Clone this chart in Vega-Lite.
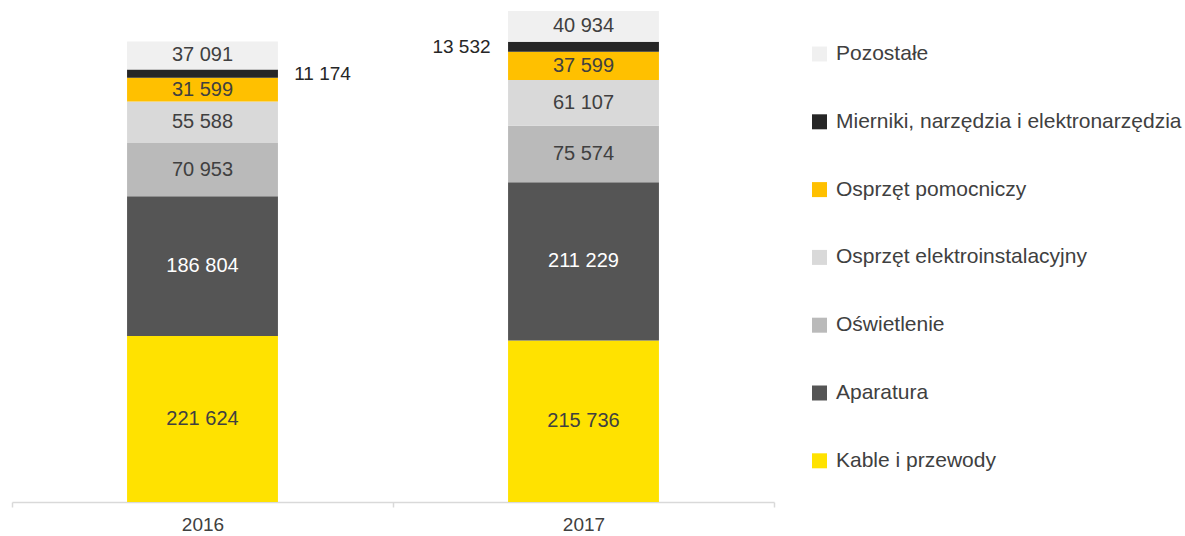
{
  "$schema": "https://vega.github.io/schema/vega-lite/v6.json",
  "width": 762,
  "height": 491,
  "autosize": {"type": "none"},
  "padding": {"left": 12, "top": 11, "right": 411, "bottom": 34},
  "config": {
    "view": {"stroke": null},
    "font": "Liberation Sans",
    "locale": {"number": {"decimal": ",", "thousands": " ", "grouping": [3], "currency": ["", " zł"]}}
  },
  "data": {
    "values": [
      {"rok": "2016", "kategoria": "Kable i przewody", "k": 1, "wartosc": 221624},
      {"rok": "2016", "kategoria": "Aparatura", "k": 2, "wartosc": 186804},
      {"rok": "2016", "kategoria": "Oświetlenie", "k": 3, "wartosc": 70953},
      {"rok": "2016", "kategoria": "Osprzęt elektroinstalacyjny", "k": 4, "wartosc": 55588},
      {"rok": "2016", "kategoria": "Osprzęt pomocniczy", "k": 5, "wartosc": 31599},
      {"rok": "2016", "kategoria": "Mierniki, narzędzia i elektronarzędzia", "k": 6, "wartosc": 11174},
      {"rok": "2016", "kategoria": "Pozostałe", "k": 7, "wartosc": 37091},
      {"rok": "2017", "kategoria": "Kable i przewody", "k": 1, "wartosc": 215736},
      {"rok": "2017", "kategoria": "Aparatura", "k": 2, "wartosc": 211229},
      {"rok": "2017", "kategoria": "Oświetlenie", "k": 3, "wartosc": 75574},
      {"rok": "2017", "kategoria": "Osprzęt elektroinstalacyjny", "k": 4, "wartosc": 61107},
      {"rok": "2017", "kategoria": "Osprzęt pomocniczy", "k": 5, "wartosc": 37599},
      {"rok": "2017", "kategoria": "Mierniki, narzędzia i elektronarzędzia", "k": 6, "wartosc": 13532},
      {"rok": "2017", "kategoria": "Pozostałe", "k": 7, "wartosc": 40934}
    ]
  },
  "transform": [
    {"stack": "wartosc", "groupby": ["rok"], "sort": [{"field": "k", "order": "ascending"}], "as": ["y0", "y1"]},
    {"calculate": "(datum.y0 + datum.y1) / 2", "as": "ymid"}
  ],
  "encoding": {
    "x": {
      "field": "rok",
      "type": "nominal",
      "scale": {"paddingInner": 0, "paddingOuter": 0},
      "axis": {
        "title": null,
        "labelAngle": 0,
        "tickBand": "extent",
        "domainColor": "#d9d9d9",
        "domainWidth": 1.5,
        "tickColor": "#d9d9d9",
        "tickWidth": 1.5,
        "tickSize": 5,
        "labelFontSize": 19,
        "labelColor": "#404040",
        "labelPadding": 8
      }
    }
  },
  "layer": [
    {
      "mark": {"type": "bar", "width": {"band": 0.396}},
      "encoding": {
        "y": {"field": "y0", "type": "quantitative", "scale": {"domain": [0, 655711], "nice": false}, "axis": null},
        "y2": {"field": "y1"},
        "color": {
          "field": "kategoria",
          "type": "nominal",
          "scale": {
            "domain": ["Pozostałe", "Mierniki, narzędzia i elektronarzędzia", "Osprzęt pomocniczy", "Osprzęt elektroinstalacyjny", "Oświetlenie", "Aparatura", "Kable i przewody"],
            "range": ["#f0f0f0", "#262626", "#ffc000", "#d9d9d9", "#bababa", "#555555", "#ffe200"]
          },
          "legend": {
            "orient": "none",
            "legendX": 797,
            "legendY": 32.5,
            "title": null,
            "padding": 0,
            "symbolType": "square",
            "symbolSize": 225,
            "symbolStrokeWidth": 0,
            "labelFontSize": 21,
            "labelColor": "#404040",
            "labelOffset": 6,
            "rowPadding": 45.8,
            "labelLimit": 0
          }
        }
      }
    },
    {
      "transform": [{"filter": "datum.k != 6"}],
      "mark": {"type": "text", "fontSize": 20, "baseline": "middle", "align": "center"},
      "encoding": {
        "y": {"field": "ymid", "type": "quantitative"},
        "text": {"field": "wartosc", "type": "quantitative", "format": ",d"},
        "color": {"condition": {"test": "datum.k == 2", "value": "#ffffff"}, "value": "#404040"}
      }
    },
    {
      "transform": [{"filter": "datum.k == 6 && datum.rok == '2016'"}],
      "mark": {"type": "text", "fontSize": 19, "baseline": "middle", "align": "center", "dx": 120, "color": "#262626"},
      "encoding": {
        "y": {"field": "ymid", "type": "quantitative"},
        "text": {"field": "wartosc", "type": "quantitative", "format": ",d"}
      }
    },
    {
      "transform": [{"filter": "datum.k == 6 && datum.rok == '2017'"}],
      "mark": {"type": "text", "fontSize": 19, "baseline": "middle", "align": "center", "dx": -122, "color": "#262626"},
      "encoding": {
        "y": {"field": "ymid", "type": "quantitative"},
        "text": {"field": "wartosc", "type": "quantitative", "format": ",d"}
      }
    }
  ]
}
